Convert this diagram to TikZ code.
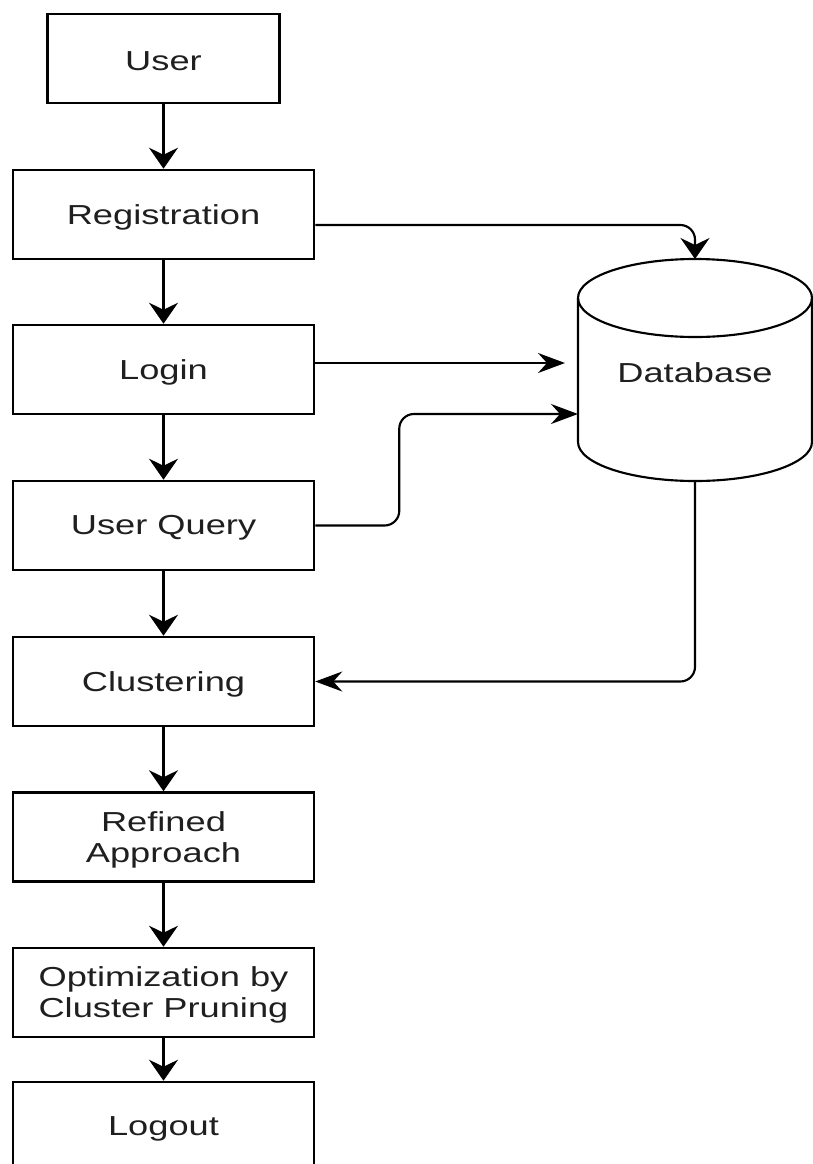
\documentclass[tikz,border=0pt]{standalone}
\usepackage{fontspec}
\setmainfont{Liberation Sans}
\usetikzlibrary{arrows.meta,calc}
\newcommand{\wtxt}[1]{\raisebox{-1.8pt}[\height][\depth]{\scalebox{1.32}[1]{#1}}}
\begin{document}
\begin{tikzpicture}[x=0.75pt,y=-0.75pt,
  box/.style={draw, line width=1.9pt, minimum width=225.75pt, minimum height=66.75pt,
    inner sep=0pt, align=center, text=black!88, font=\fontsize{20.6pt}{23.25pt}\selectfont},
  conn/.style={line width=1.6pt},
  vtip/.style={-{Stealth[length=15.75pt,width=21.75pt,inset=5.25pt]}},
  htip/.style={-{Stealth[length=20.25pt,width=15pt,inset=6.75pt]}},
  roundbend/.style={rounded corners=11pt}]
\useasboundingbox (0,0) rectangle (813,1164);

\node[box, minimum width=174pt] (U) at (163.5,58.5) {\wtxt{User}};
\node[box] (R) at (163.5,214.5) {\wtxt{Registration}};
\node[box] (L) at (163.5,369.5) {\wtxt{Login}};
\node[box] (Q) at (163.5,525.5) {\wtxt{User Query}};
\node[box] (C) at (163.5,681.5) {\wtxt{Clustering}};
\node[box] (F) at (163.5,837) {\wtxt{Refined}\\\wtxt{Approach}};
\node[box] (O) at (163.5,992.5) {\wtxt{Optimization by}\\\wtxt{Cluster Pruning}};
\node[box] (G) at (163.5,1126.5) {\wtxt{Logout}};

% database cylinder
\node[minimum width=175.5pt, minimum height=166.5pt, inner sep=0pt, outer sep=0pt,
  text=black!88, font=\fontsize{20.6pt}{23.25pt}\selectfont] (db) at (695,370) {\wtxt{Database}};
\draw[conn] ($(db.north)+(0,39)$) ellipse [x radius=87.75pt, y radius=29.25pt];
\draw[conn] ($(db.north west)+(0,39)$) -- ($(db.south west)+(0,-39)$)
  arc[start angle=180, end angle=360, x radius=87.75pt, y radius=29.25pt]
  -- ($(db.north east)+(0,39)$);

% vertical flow
\draw[conn, vtip] (U.south) -- (R.north);
\draw[conn, vtip] (R.south) -- (L.north);
\draw[conn, vtip] (L.south) -- (Q.north);
\draw[conn, vtip] (Q.south) -- (C.north);
\draw[conn, vtip] (C.south) -- (F.north);
\draw[conn, vtip] (F.south) -- (O.north);
\draw[conn, vtip] (O.south) -- (G.north);

% connections to / from database
\coordinate (lend) at ($(db.west)+(-13,-7)$);
\draw[conn, vtip, roundbend] ($(R.east)+(0,10.5)$) -| (db.north);
\draw[conn, htip] ($(L.east)+(0,-6.5)$) -- (lend);
\draw[conn, htip, roundbend] (Q.east) -- ++(84,0) |- ($(db.west)+(0,44)$);
\draw[conn, htip, roundbend] (db.south) |- (C.east);
\end{tikzpicture}
\end{document}
